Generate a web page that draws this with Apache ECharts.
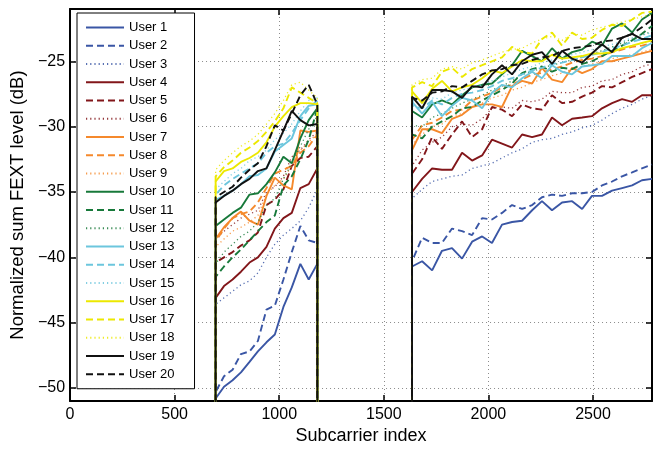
<!DOCTYPE html>
<html>
<head>
<meta charset="utf-8">
<script src="https://cdn.jsdelivr.net/npm/echarts@6/dist/echarts.min.js"></script>
<style>
  html, body { margin: 0; padding: 0; background: #fff; }
  #fext { width: 660px; height: 450px; }
</style>
</head>
<body>
<div id="fext"></div>
<script>
// subcarrier indices sampled in the two upstream bands
var leftTones = [696, 736, 777, 817, 858, 898, 939, 979, 1020, 1060, 1101, 1141, 1182];
var rightTones = [1635, 1683, 1731, 1778, 1826, 1874, 1922, 1970, 2017, 2065, 2113, 2161, 2209, 2256, 2304, 2352, 2400, 2448, 2495, 2543, 2591, 2639, 2687, 2734, 2782];

var userNames = ['User 1', 'User 2', 'User 3', 'User 4', 'User 5', 'User 6', 'User 7', 'User 8', 'User 9', 'User 10',
    'User 11', 'User 12', 'User 13', 'User 14', 'User 15', 'User 16', 'User 17', 'User 18', 'User 19', 'User 20'];

// normalized sum FEXT level (dB), one row per user, first band
var leftLevels = [
    [-50.8, -49.9, -49.4, -48.8, -48.0, -47.2, -46.5, -45.9, -43.8, -42.3, -40.5, -41.7, -40.5],
    [-50.3, -49.1, -48.6, -47.4, -47.2, -46.4, -44.0, -43.7, -41.7, -39.6, -37.6, -38.7, -38.9],
    [-43.6, -43.1, -42.6, -42.1, -41.8, -41.2, -40.0, -39.0, -38.3, -37.8, -37.2, -36.2, -34.8],
    [-43.1, -42.2, -41.7, -41.1, -40.4, -40.0, -39.2, -37.8, -37.0, -36.6, -34.7, -34.4, -33.2],
    [-40.4, -40.0, -39.6, -39.1, -38.7, -38.1, -36.0, -35.6, -34.8, -33.0, -32.4, -32.3, -31.5],
    [-38.6, -38.0, -37.5, -37.0, -36.7, -36.4, -35.0, -34.6, -33.8, -32.3, -31.8, -31.0, -30.4],
    [-38.6, -37.7, -37.0, -36.5, -37.2, -37.5, -35.3, -33.9, -34.5, -34.8, -30.3, -30.4, -30.3],
    [-38.8, -37.8, -37.0, -36.7, -36.5, -35.8, -34.7, -33.6, -33.3, -33.0, -32.0, -31.5, -30.6],
    [-39.2, -38.6, -38.0, -37.7, -37.3, -36.8, -35.2, -34.5, -34.0, -33.0, -31.8, -31.2, -30.5],
    [-37.6, -37.1, -36.6, -36.2, -35.2, -35.1, -34.4, -33.5, -32.3, -32.8, -30.9, -29.5, -28.6],
    [-41.5, -40.7, -40.0, -39.4, -38.7, -38.0, -37.3, -36.8, -34.5, -33.8, -32.5, -31.0, -28.6],
    [-40.5, -39.6, -39.0, -38.4, -38.0, -37.3, -36.0, -35.5, -34.0, -32.8, -31.5, -30.2, -29.2],
    [-35.6, -35.3, -34.9, -34.4, -33.8, -33.7, -33.2, -31.9, -31.4, -30.9, -29.2, -28.4, -28.3],
    [-35.2, -34.5, -34.0, -33.6, -33.2, -32.8, -32.0, -31.5, -31.3, -30.5, -29.5, -28.6, -28.0],
    [-34.8, -34.2, -33.6, -33.2, -32.6, -32.3, -31.8, -31.0, -30.5, -29.8, -28.8, -28.0, -27.8],
    [-34.2, -33.4, -33.2, -32.7, -32.4, -32.0, -31.2, -30.0, -29.2, -28.5, -28.2, -28.2, -28.3],
    [-33.8, -33.1, -32.6, -32.0, -31.6, -31.1, -30.4, -29.6, -28.6, -27.0, -27.4, -27.8, -28.2],
    [-33.3, -32.6, -32.0, -31.5, -31.1, -30.6, -29.8, -29.0, -28.0, -26.8, -26.6, -27.2, -27.8],
    [-35.8, -35.3, -34.9, -34.4, -34.0, -33.4, -33.2, -31.8, -30.3, -28.8, -29.5, -29.9, -29.8],
    [-35.4, -35.0, -34.6, -33.9, -33.3, -32.8, -31.5, -29.9, -30.3, -29.0, -27.6, -26.8, -28.3]
];

// second band
var rightLevels = [
    [-40.7, -40.3, -41.0, -39.5, -39.3, -40.1, -38.8, -38.4, -38.9, -37.5, -37.3, -37.2, -36.4, -35.7, -36.4, -35.8, -35.7, -36.3, -35.3, -35.3, -34.9, -34.7, -34.5, -34.1, -34.0],
    [-40.3, -38.5, -38.9, -38.9, -37.8, -38.0, -38.3, -37.0, -37.1, -36.6, -36.0, -36.3, -36.0, -35.4, -35.2, -35.3, -35.1, -35.1, -35.0, -34.5, -34.2, -33.8, -33.5, -33.2, -32.9],
    [-35.5, -34.8, -34.2, -34.0, -33.8, -33.7, -33.2, -33.0, -32.8, -32.4, -32.0, -31.7, -31.2, -31.0, -30.9, -30.6, -30.4, -30.1, -29.9, -29.5, -29.0, -28.6, -28.3, -27.9, -27.6],
    [-35.0, -34.0, -33.2, -33.3, -33.3, -32.0, -32.6, -32.2, -31.0, -31.3, -31.6, -30.6, -30.8, -30.6, -29.3, -29.9, -29.4, -29.3, -29.2, -28.6, -28.2, -27.9, -28.1, -27.6, -27.6],
    [-33.6, -32.5, -30.8, -31.7, -30.6, -29.6, -30.8, -30.2, -28.5, -28.7, -29.2, -28.3, -28.6, -28.7, -27.6, -28.2, -28.1, -27.7, -27.4, -26.9, -27.0, -26.6, -26.2, -25.9, -25.6],
    [-33.0, -31.8, -31.2, -30.8, -30.0, -29.8, -29.9, -29.4, -28.6, -28.5, -28.6, -28.0, -28.1, -27.9, -27.3, -27.4, -27.4, -27.0, -26.9, -26.5, -26.4, -26.0, -25.8, -25.4, -25.2],
    [-31.8, -30.2, -30.2, -30.5, -29.4, -29.1, -28.5, -28.3, -28.3, -28.5, -26.9, -26.5, -26.7, -25.5, -26.4, -26.6, -25.5, -25.9, -25.6, -25.0, -25.0, -24.8, -24.6, -24.4, -24.2],
    [-31.0, -29.9, -29.7, -29.3, -28.8, -28.7, -28.0, -27.7, -27.4, -27.0, -26.8, -26.4, -26.0, -25.9, -25.6, -25.4, -25.1, -24.9, -24.8, -24.6, -24.3, -24.1, -23.9, -23.8, -23.6],
    [-31.4, -30.6, -30.0, -29.8, -29.2, -29.0, -28.5, -28.2, -27.8, -27.6, -27.2, -27.0, -26.6, -26.4, -26.1, -25.9, -25.6, -25.4, -25.2, -25.0, -24.8, -24.6, -24.5, -24.3, -24.1],
    [-28.8, -29.3, -28.3, -28.0, -28.3, -27.6, -27.0, -26.8, -26.7, -26.0, -25.3, -24.2, -24.6, -25.0, -24.0, -24.8, -24.3, -24.1, -23.5, -23.8, -22.5, -22.1, -22.8, -21.8, -21.3],
    [-30.6, -30.9, -30.0, -29.6, -29.2, -28.6, -28.5, -28.0, -27.6, -27.2, -26.7, -25.9, -25.6, -25.4, -25.8, -25.5, -25.6, -25.2, -25.0, -24.6, -24.2, -23.8, -23.4, -22.9, -22.3],
    [-29.9, -30.0, -29.3, -29.0, -28.6, -28.2, -27.9, -27.6, -27.2, -26.9, -26.5, -26.0, -25.8, -25.5, -25.3, -25.1, -24.9, -24.7, -24.4, -24.2, -23.9, -23.6, -23.3, -23.0, -22.7],
    [-28.1, -29.0, -28.1, -29.2, -28.4, -27.8, -28.0, -28.6, -27.4, -26.8, -27.0, -26.3, -25.8, -26.3, -25.3, -25.8, -26.0, -25.4, -25.3, -25.2, -24.6, -24.6, -24.6, -24.0, -23.6],
    [-28.4, -28.6, -28.0, -28.3, -27.8, -27.5, -27.4, -27.2, -26.9, -26.5, -26.3, -26.0, -25.7, -25.5, -25.2, -25.1, -24.9, -24.7, -24.5, -24.3, -24.0, -23.8, -23.5, -23.3, -23.0],
    [-28.0, -28.2, -27.8, -27.9, -27.4, -27.2, -27.0, -26.8, -26.5, -26.2, -25.9, -25.6, -25.4, -25.1, -24.9, -24.7, -24.5, -24.3, -24.1, -23.9, -23.7, -23.5, -23.2, -23.0, -22.8],
    [-27.3, -28.2, -27.1, -26.5, -27.3, -27.0, -26.8, -26.3, -25.7, -25.9, -25.4, -24.9, -25.0, -25.0, -24.5, -24.8, -24.7, -24.6, -24.4, -24.4, -24.3, -24.0, -23.8, -23.6, -23.4],
    [-27.0, -26.6, -26.9, -25.8, -25.5, -26.2, -25.6, -25.3, -25.0, -24.7, -23.9, -24.3, -24.4, -23.3, -22.8, -23.8, -22.8, -23.3, -23.2, -22.6, -22.2, -22.3, -21.8, -21.3, -21.2],
    [-26.8, -26.4, -26.3, -25.6, -25.4, -25.6, -25.1, -24.9, -24.6, -24.3, -24.1, -24.0, -23.6, -23.3, -23.1, -23.4, -22.9, -23.0, -22.6, -22.4, -22.2, -22.0, -21.8, -21.6, -21.4],
    [-27.7, -28.6, -27.2, -27.2, -27.3, -27.8, -26.9, -27.0, -26.0, -25.3, -26.0, -25.0, -24.5, -24.3, -25.2, -24.2, -24.8, -25.1, -24.4, -23.7, -24.3, -23.2, -22.9, -23.3, -23.3],
    [-27.8, -28.0, -27.4, -27.3, -26.9, -27.0, -26.5, -26.0, -25.7, -25.6, -25.3, -25.2, -24.9, -24.7, -24.6, -24.2, -24.0, -23.9, -23.8, -23.5, -23.4, -23.2, -22.9, -22.4, -21.8]
];

// outside the upstream bands the level is effectively -inf
var offBand = -200;

var xTicks = [0, 500, 1000, 1500, 2000, 2500];
var yTicks = [-50, -45, -40, -35, -30, -25];

(function(){
    var myChart = echarts.init(document.getElementById('fext'));
    var font = 'Liberation Sans, Arial, sans-serif';
    var palette = ['#3a56a5', '#82161a', '#f5892c', '#17793a', '#6cc6dd', '#ece800', '#111111'];
    var dashes = ['solid', [7, 4], [1.2, 3]];

    var series = userNames.map(function (name, i) {
        var data = [[leftTones[0] - 1, offBand]];
        leftTones.forEach(function (t, j) { data.push([t, leftLevels[i][j]]); });
        data.push([leftTones[leftTones.length - 1] + 1, offBand]);
        data.push([rightTones[0] - 1, offBand]);
        rightTones.forEach(function (t, j) { data.push([t, rightLevels[i][j]]); });
        var kind = i % 3;
        return {
            name: name,
            type: 'line',
            symbol: 'none',
            clip: true,
            data: data,
            lineStyle: {
                color: palette[Math.floor(i / 3)],
                width: kind === 2 ? 1.3 : 1.9,
                type: dashes[kind],
                opacity: kind === 2 ? 0.85 : 1
            },
            itemStyle: { color: palette[Math.floor(i / 3)] }
        };
    });

    var minus = function (v) { return String(v).replace('-', '\u2212'); };
    var tickStyle = { show: true, inside: true, length: 6, lineStyle: { color: '#000', width: 1.5 } };
    var lineStyle = { show: true, onZero: false, lineStyle: { color: '#000', width: 2 } };

    var option = {
        animation: false,
        backgroundColor: '#fff',
        grid: { left: 66, right: 8, top: 9, bottom: 41 },
        legend: {
            orient: 'vertical',
            left: 77,
            top: 13,
            padding: [8, 20, 8, 8],
            itemWidth: 38,
            itemHeight: 14,
            itemGap: 5.25,
            backgroundColor: '#fff',
            borderColor: '#000',
            borderWidth: 1,
            borderRadius: 0,
            itemStyle: { opacity: 0 },
            textStyle: { fontFamily: font, fontSize: 13, color: '#000', padding: [0, 0, 0, 0] },
            data: userNames
        },
        xAxis: [{
            type: 'value',
            min: 0,
            max: 2782,
            interval: 500,
            name: 'Subcarrier index',
            nameLocation: 'middle',
            nameGap: 24,
            nameTextStyle: { fontFamily: font, fontSize: 18, color: '#000' },
            axisLine: lineStyle,
            axisTick: tickStyle,
            axisLabel: { fontFamily: font, fontSize: 16, color: '#000', margin: 5, customValues: xTicks,
                formatter: function (v) { return String(v); } },
            splitLine: { show: true, lineStyle: { color: '#8c8c8c', width: 1, type: [1, 3] } }
        }, {
            type: 'value',
            position: 'top',
            min: 0,
            max: 2782,
            interval: 500,
            axisLine: lineStyle,
            axisTick: tickStyle,
            axisLabel: { show: false },
            splitLine: { show: false }
        }],
        yAxis: [{
            type: 'value',
            min: -51,
            max: -21,
            name: 'Normalized sum FEXT level (dB)',
            nameLocation: 'middle',
            nameGap: 29,
            nameTextStyle: { fontFamily: font, fontSize: 18.5, color: '#000' },
            axisLine: lineStyle,
            axisTick: Object.assign({}, tickStyle, { customValues: yTicks }),
            axisLabel: { fontFamily: font, fontSize: 16, color: '#000', margin: 5, customValues: yTicks, formatter: minus },
            splitLine: { show: true, lineStyle: { color: '#8c8c8c', width: 1, type: [1, 3] } }
        }, {
            type: 'value',
            position: 'right',
            min: -51,
            max: -21,
            axisLine: lineStyle,
            axisTick: Object.assign({}, tickStyle, { customValues: yTicks }),
            axisLabel: { show: false, customValues: yTicks },
            splitLine: { show: false }
        }],
        series: series
    };
    myChart.setOption(option);
})();
</script>
</body>
</html>
